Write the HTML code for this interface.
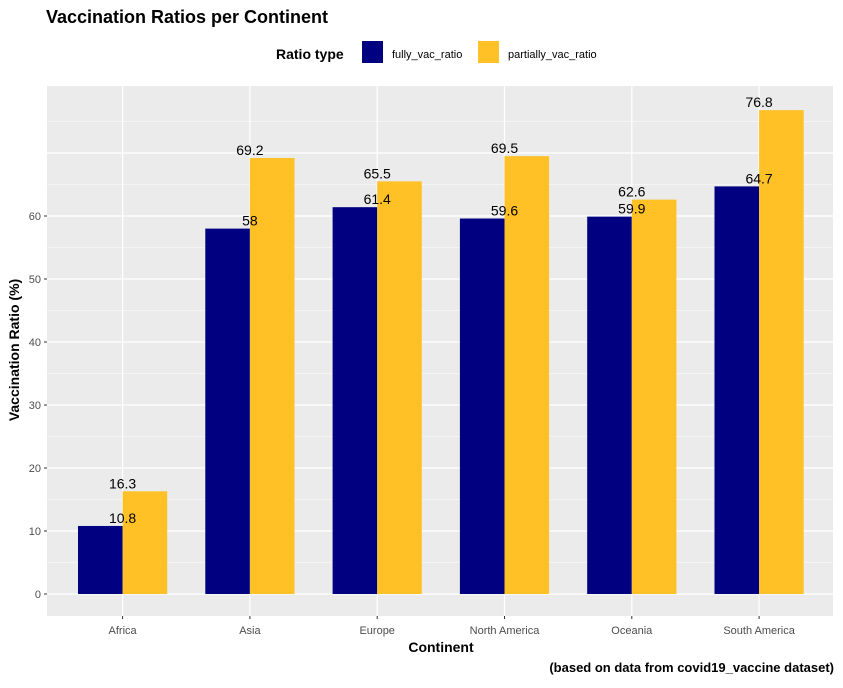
<!DOCTYPE html>
<html><head><meta charset="utf-8"><style>
body{margin:0;background:#fff;}
svg text{font-family:"Liberation Sans",Arial,sans-serif;}
</style></head><body>
<svg id="chart" width="843" height="683" xmlns="http://www.w3.org/2000/svg">
<text x="46" y="23" font-size="18" font-weight="bold" fill="#000">Vaccination Ratios per Continent</text>
<g>
<text x="276" y="59" font-size="14" font-weight="bold">Ratio type</text>
<rect x="362" y="41" width="21" height="22" fill="#000080"/>
<text x="392" y="58" font-size="11" fill="#000">fully_vac_ratio</text>
<rect x="478" y="41" width="21" height="22" fill="#FFC125"/>
<text x="508" y="58" font-size="11" fill="#000">partially_vac_ratio</text>
</g>
<rect x="47" y="86" width="786" height="530" fill="#EBEBEB"/>
<g id="grid"></g><g id="bars"></g><g id="labels"></g><g id="axes"></g>
<text x="441" y="652" font-size="14" font-weight="bold" text-anchor="middle">Continent</text>
<text transform="translate(19,350) rotate(-90)" font-size="14" font-weight="bold" text-anchor="middle">Vaccination Ratio (%)</text>
<text x="834" y="672" font-size="13" font-weight="bold" text-anchor="end">(based on data from covid19_vaccine dataset)</text>
</svg>
<script>
const categories=["Africa","Asia","Europe","North America","Oceania","South America"];
const fullyValues=[10.8,58,61.4,59.6,59.9,64.7];
const partiallyValues=[16.3,69.2,65.5,69.5,62.6,76.8];
const yTicks=[0,10,20,30,40,50,60];
const ns="http://www.w3.org/2000/svg";
const y=v=>594-v*6.3;
const x=i=>122.6+i*127.3;
const bw=44.6;
function mk(tag,attrs,parent,txt){const e=document.createElementNS(ns,tag);for(const k in attrs)e.setAttribute(k,attrs[k]);if(txt!==undefined)e.textContent=txt;document.getElementById(parent).appendChild(e);return e;}
for(let v=5;v<=75;v+=10){const l=mk('line',{x1:47,x2:833,y1:y(v),y2:y(v),stroke:'#fff','stroke-width':0.6},'grid');

}
for(let v=0;v<=70;v+=10){const l=mk('line',{x1:47,x2:833,y1:y(v),y2:y(v),stroke:'#fff','stroke-width':1.2},'grid');

}
categories.forEach((c,i)=>{const l=mk('line',{x1:x(i),x2:x(i),y1:86,y2:616,stroke:'#fff','stroke-width':1.2},'grid');


const b1=mk('rect',{x:x(i)-bw,y:y(fullyValues[i]),width:bw,height:y(0)-y(fullyValues[i]),fill:'#000080'},'bars');


const b2=mk('rect',{x:x(i),y:y(partiallyValues[i]),width:bw,height:y(0)-y(partiallyValues[i]),fill:'#FFC125'},'bars');


const t1=mk('text',{x:x(i),y:y(fullyValues[i])-3,'font-size':14,'text-anchor':'middle',fill:'#000'},'labels',String(fullyValues[i]));


const t2=mk('text',{x:x(i),y:y(partiallyValues[i])-3,'font-size':14,'text-anchor':'middle',fill:'#000'},'labels',String(partiallyValues[i]));


const tk=mk('line',{x1:x(i),x2:x(i),y1:616,y2:619,stroke:'#333'},'axes');


const xl=mk('text',{x:x(i),y:634,'font-size':11,'text-anchor':'middle',fill:'#4D4D4D'},'axes',c);

});
yTicks.forEach(v=>{const tk=mk('line',{x1:44,x2:47,y1:y(v),y2:y(v),stroke:'#333'},'axes');


const yl=mk('text',{x:41,y:y(v)+4,'font-size':11,'text-anchor':'end',fill:'#4D4D4D'},'axes',String(v));

});
</script>
</body></html>
